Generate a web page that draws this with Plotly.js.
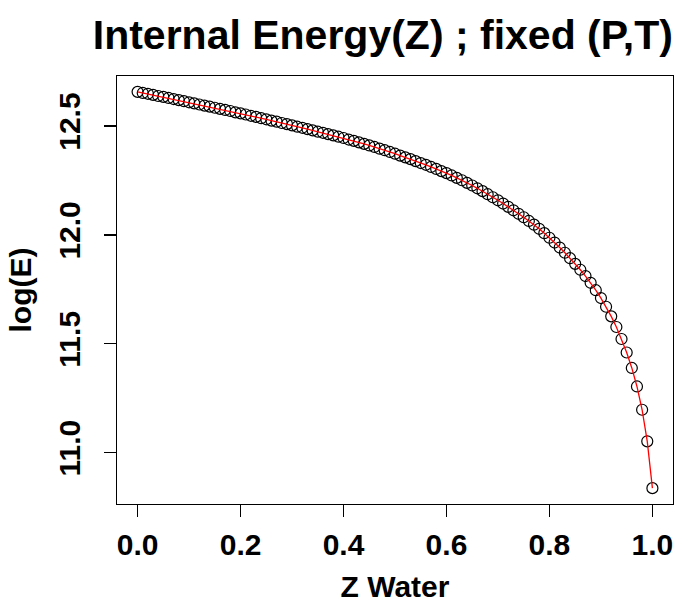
<!DOCTYPE html>
<html>
<head>
<meta charset="utf-8">
<script src="https://cdn.plot.ly/plotly-3.0.1.min.js"></script>
<style>html,body{margin:0;padding:0;background:#fff;}#chart{width:691px;height:603px;}</style>
</head>
<body>
<div id="chart"></div>
<script>
// Z water fraction (x) and log(E) values (y)
var zWater = [0.00,0.01,0.02,0.03,0.04,0.05,0.06,0.07,0.08,0.09,
  0.10,0.11,0.12,0.13,0.14,0.15,0.16,0.17,0.18,0.19,
  0.20,0.21,0.22,0.23,0.24,0.25,0.26,0.27,0.28,0.29,
  0.30,0.31,0.32,0.33,0.34,0.35,0.36,0.37,0.38,0.39,
  0.40,0.41,0.42,0.43,0.44,0.45,0.46,0.47,0.48,0.49,
  0.50,0.51,0.52,0.53,0.54,0.55,0.56,0.57,0.58,0.59,
  0.60,0.61,0.62,0.63,0.64,0.65,0.66,0.67,0.68,0.69,
  0.70,0.71,0.72,0.73,0.74,0.75,0.76,0.77,0.78,0.79,
  0.80,0.81,0.82,0.83,0.84,0.85,0.86,0.87,0.88,0.89,
  0.90,0.91,0.92,0.93,0.94,0.95,0.96,0.97,0.98,0.99,1.00];
var logE = [12.657,12.652,12.648,12.643,12.638,12.634,12.629,12.624,12.619,12.614,
  12.609,12.604,12.599,12.594,12.589,12.584,12.579,12.574,12.569,12.563,
  12.558,12.553,12.547,12.542,12.536,12.531,12.525,12.520,12.514,12.509,
  12.503,12.497,12.492,12.486,12.480,12.474,12.469,12.463,12.457,12.451,
  12.445,12.438,12.432,12.425,12.418,12.411,12.404,12.396,12.389,12.381,
  12.373,12.364,12.356,12.348,12.339,12.330,12.322,12.312,12.303,12.293,
  12.284,12.273,12.262,12.251,12.239,12.227,12.214,12.201,12.187,12.173,
  12.159,12.144,12.129,12.113,12.097,12.081,12.064,12.047,12.028,12.008,
  11.987,11.965,11.942,11.918,11.893,11.867,11.840,11.811,11.780,11.746,
  11.710,11.670,11.626,11.577,11.522,11.460,11.389,11.304,11.197,11.052,10.837];
var xTicks = [0.0,0.2,0.4,0.6,0.8,1.0];
var yTicks = [11.0,11.5,12.0,12.5];

var fontFam = '"Liberation Sans", Arial, Helvetica, sans-serif';

var traces = [
  {x: zWater, y: logE, type: 'scatter', mode: 'markers',
   marker: {symbol: 'circle-open', size: 11, color: '#000', line: {width: 1.2, color: '#000'}},
   hoverinfo: 'skip', showlegend: false},
  {x: zWater, y: logE, type: 'scatter', mode: 'lines',
   line: {color: '#ff0000', width: 1.3}, showlegend: false}
];

var xmin = Math.min.apply(null, zWater), xmax = Math.max.apply(null, zWater);
var ymin = Math.min.apply(null, logE), ymax = Math.max.apply(null, logE);
var xpad = 0.04 * (xmax - xmin), ypad = 0.04 * (ymax - ymin);

var layout = {
  width: 691, height: 603,
  paper_bgcolor: '#fff', plot_bgcolor: '#fff',
  margin: {l: 117, r: 18, t: 76, b: 99, pad: 0},
  showlegend: false,
  title: {text: '<b>Internal Energy(Z) ; fixed (P,T)</b>',
          font: {family: fontFam, size: 41, color: '#000'},
          xref: 'container', x: 0.554, xanchor: 'center',
          yref: 'container', y: 0.943, yanchor: 'middle'},
  xaxis: {range: [xmin - xpad, xmax + xpad], tickvals: xTicks, tickformat: '.1f',
          showgrid: false, zeroline: false, showline: true, mirror: true,
          linecolor: '#000', linewidth: 1.2, ticks: 'outside', ticklen: 12, tickwidth: 1.2, tickcolor: '#000',
          tickfont: {family: fontFam, size: 30, color: '#000', weight: 'bold'},
          ticklabelstandoff: 2,
          title: {text: '<b>Z Water</b>', font: {family: fontFam, size: 30, color: '#000'}, standoff: 18}},
  yaxis: {range: [ymin - ypad, ymax + ypad], tickvals: yTicks, tickformat: '.1f',
          showgrid: false, zeroline: false, showline: true, mirror: true,
          linecolor: '#000', linewidth: 1.2, ticks: 'outside', ticklen: 12, tickwidth: 1.2, tickcolor: '#000',
          tickangle: -90,
          tickfont: {family: fontFam, size: 30, color: '#000', weight: 'bold'},
          ticklabelstandoff: 12,
          title: {text: '<b>log(E)</b>', font: {family: fontFam, size: 30, color: '#000'}, standoff: 12}}
};

Plotly.newPlot('chart', traces, layout, {displayModeBar: false, staticPlot: true});
</script>
</body>
</html>
